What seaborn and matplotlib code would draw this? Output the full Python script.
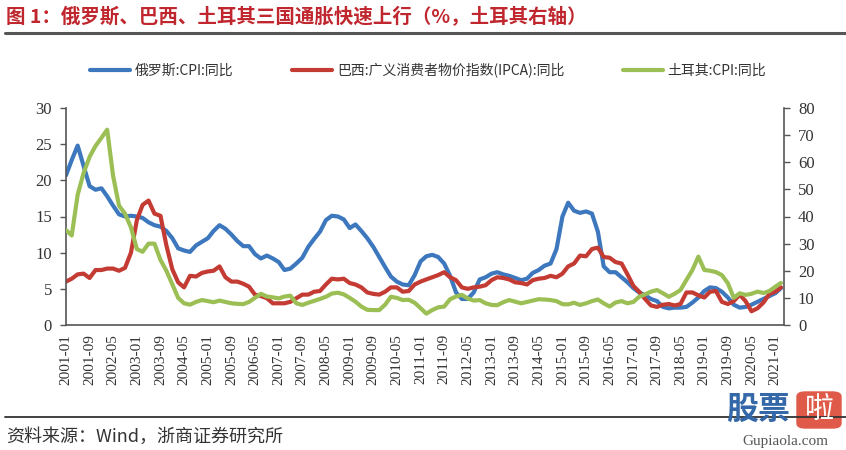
import pandas as pd
import seaborn as sns
import matplotlib.pyplot as plt
from matplotlib.lines import Line2D
from matplotlib.patches import FancyBboxPatch

# bi-monthly readings, 2001-01 .. 2021-03
dates = pd.date_range('2001-01-01', periods=122, freq='2MS')

russia = [
    20.7, 22.8, 24.8, 22.0, 19.2, 18.7, 18.9, 17.8, 16.5, 15.3, 15.0, 15.1,
    15.0, 14.8, 14.2, 13.8, 13.6, 13.0, 12.0, 10.6, 10.3, 10.1, 11.0, 11.5,
    12.0, 13.0, 13.8, 13.3, 12.5, 11.6, 10.9, 10.9, 9.8, 9.2, 9.6, 9.2,
    8.7, 7.6, 7.8, 8.5, 9.3, 10.8, 11.9, 12.9, 14.5, 15.1, 15.0, 14.6,
    13.4, 13.9, 13.0, 12.0, 10.8, 9.4, 8.0, 6.7, 6.0, 5.6, 5.5, 6.9,
    8.8, 9.5, 9.7, 9.4, 8.5, 6.8, 4.5, 3.6, 3.6, 4.5, 6.3, 6.6,
    7.1, 7.3, 7.0, 6.8, 6.5, 6.2, 6.4, 7.2, 7.6, 8.2, 8.5, 10.5,
    15.0, 16.9, 15.8, 15.5, 15.7, 15.4, 12.9, 8.1, 7.3, 7.3, 6.6, 5.9,
    5.1, 4.5, 4.1, 3.6, 3.3, 2.5, 2.3, 2.4, 2.4, 2.5, 3.1, 3.8,
    4.7, 5.2, 5.1, 4.6, 3.8, 2.8, 2.4, 2.5, 2.8, 3.2, 3.6, 4.0,
    4.4, 5.1,
]

brazil = [
    6.0, 6.4, 7.0, 7.1, 6.5, 7.6, 7.6, 7.8, 7.8, 7.5, 7.9, 10.0,
    14.5, 16.6, 17.2, 15.4, 15.1, 11.0, 7.7, 5.9, 5.2, 6.8, 6.7, 7.2,
    7.4, 7.5, 8.1, 6.6, 6.0, 6.0, 5.7, 5.3, 4.2, 4.0, 3.7, 3.0,
    3.0, 3.0, 3.2, 3.7, 4.2, 4.2, 4.6, 4.7, 5.6, 6.4, 6.3, 6.4,
    5.8, 5.6, 5.2, 4.5, 4.3, 4.2, 4.6, 5.2, 5.2, 4.6, 4.7, 5.6,
    6.0, 6.3, 6.6, 6.9, 7.3, 6.6, 6.2, 5.2, 5.0, 5.2, 5.3, 5.5,
    6.2, 6.6, 6.5, 6.3, 5.9, 5.8, 5.6, 6.2, 6.4, 6.5, 6.8, 6.6,
    7.1, 8.1, 8.5, 9.6, 9.5, 10.5, 10.7, 9.4, 9.3, 8.7, 8.5, 7.0,
    5.4, 4.6, 3.6, 2.7, 2.5, 2.8, 2.9, 2.7, 2.9, 4.5, 4.5, 4.1,
    3.8, 4.6, 4.7, 3.2, 2.9, 3.3, 4.2, 3.3, 1.9, 2.3, 3.1, 4.3,
    4.6, 5.2,
]

turkey = [
    35.0, 33.0, 48.0, 56.0, 62.0, 66.0, 69.0, 72.0, 55.0, 44.0, 41.0, 36.0,
    28.0, 27.0, 30.0, 30.0, 24.0, 20.0, 15.0, 10.0, 8.0, 7.5, 8.5, 9.2,
    8.8, 8.4, 9.0, 8.5, 8.0, 7.8, 7.7, 8.5, 10.0, 11.5, 10.5, 10.2,
    9.8, 10.5, 10.8, 8.0, 7.4, 8.2, 8.9, 9.6, 10.4, 11.6, 11.9, 11.3,
    10.0, 8.6, 6.8, 5.6, 5.5, 5.5, 7.5, 10.4, 10.0, 9.2, 9.3, 8.2,
    6.2, 4.2, 5.5, 6.5, 6.8, 9.5, 10.5, 11.1, 9.8, 9.0, 9.2, 8.0,
    7.4, 7.3, 8.4, 9.2, 8.6, 8.0, 8.5, 9.0, 9.5, 9.4, 9.2, 8.8,
    7.7, 7.6, 8.2, 7.4, 8.0, 8.8, 9.4, 8.0, 6.8, 8.3, 8.8, 8.0,
    8.5, 10.4, 11.3, 12.3, 12.9, 11.7, 10.4, 11.5, 12.9, 16.6, 20.3, 25.2,
    20.3, 20.0, 19.5, 18.4, 15.4, 10.0, 11.7, 11.1, 11.5, 12.3, 11.8, 12.5,
    14.1, 15.5,
]

labels = ['俄罗斯:CPI:同比', '巴西:广义消费者物价指数(IPCA):同比', '土耳其:CPI:同比']
colors = ['#3D78BE', '#C43B34', '#9BBF55']
left_ticks = [0, 5, 10, 15, 20, 25, 30]
right_ticks = [0, 10, 20, 30, 40, 50, 60, 70, 80]
tick_dates = pd.date_range('2001-01-01', '2021-01-01', freq='8MS')

title = '图 1：俄罗斯、巴西、土耳其三国通胀快速上行（%，土耳其右轴）'
source = '资料来源：Wind，浙商证券研究所'

sns.set_style('white')
plt.rcParams['font.family'] = ['Noto Sans CJK SC', 'DejaVu Sans']

df = pd.DataFrame({'date': dates, 'ru': russia, 'br': brazil, 'tr': turkey})

fig = plt.figure(figsize=(8.46, 4.5), dpi=100)
ax = fig.add_axes([66 / 846, 125 / 450, 718 / 846, 217 / 450])
ax2 = ax.twinx()

sns.lineplot(data=df, x='date', y='ru', ax=ax, color=colors[0], lw=3.0, label=labels[0], legend=False)
sns.lineplot(data=df, x='date', y='br', ax=ax, color=colors[1], lw=3.0, label=labels[1], legend=False)
sns.lineplot(data=df, x='date', y='tr', ax=ax2, color=colors[2], lw=3.0, label=labels[2], legend=False)

ax.set_xlim(pd.Timestamp('2001-01-01'), pd.Timestamp('2021-04-01'))
ax.set_ylim(0, 30)
ax2.set_ylim(0, 80)
ax.set_xlabel('')
ax.set_ylabel('')
ax2.set_ylabel('')

axis_col = '#555555'
serif = 'Liberation Serif'

for a in (ax, ax2):
    a.spines['top'].set_visible(False)
    for s in ('left', 'right', 'bottom'):
        a.spines[s].set_color(axis_col)
        a.spines[s].set_linewidth(1.2)
    a.grid(False)
ax.spines['right'].set_visible(False)
ax2.spines['left'].set_visible(False)
ax2.spines['bottom'].set_visible(False)

ax.set_yticks(left_ticks)
ax.set_yticklabels([str(v) for v in left_ticks])
ax2.set_yticks(right_ticks)
ax2.set_yticklabels([str(v) for v in right_ticks])
ax.set_xticks(tick_dates)
ax.set_xticklabels([d.strftime('%Y-%m') for d in tick_dates], rotation=90)

ax.tick_params(axis='y', direction='out', length=4, width=1, color=axis_col, pad=6,
               labelsize=12, labelcolor='#333333', labelfontfamily=serif)
ax.tick_params(axis='x', direction='inout', length=7, width=1, color=axis_col, pad=3,
               labelsize=11, labelcolor='#333333', labelfontfamily=serif)
ax2.tick_params(axis='y', direction='out', length=4, width=1, color=axis_col, pad=6,
                labelsize=12, labelcolor='#333333', labelfontfamily=serif)

h1, l1 = ax.get_legend_handles_labels()
h2, l2 = ax2.get_legend_handles_labels()
fig.legend(h1 + h2, l1 + l2, loc='center', bbox_to_anchor=(428 / 846, 1 - 70 / 450),
           ncol=3, frameon=False, fontsize=10, handlelength=2.9,
           columnspacing=4.2, handletextpad=0.35, labelcolor='#333333')

fig.text(6 / 846, 1 - 17 / 450, title, color='#C0262D', fontsize=14,
         fontweight='bold', va='center', ha='left')
fig.add_artist(Line2D([5 / 846, 1.0], [1 - 33 / 450] * 2, color='#555555', lw=2.2))
fig.add_artist(Line2D([5 / 846, 1.0], [1 - 417 / 450] * 2, color='#333333', lw=1.3))
fig.text(6 / 846, 1 - 437 / 450, source, fontsize=13, color='#333333', va='center', ha='left')

# watermark
fig.text(726 / 846, 1 - 410 / 450, '股票', fontsize=23, fontweight='bold', color='#3468A8',
         va='center', ha='left')
fig.add_artist(FancyBboxPatch((797 / 846, 1 - 428 / 450), 44 / 846, 36 / 450,
                              boxstyle='round,pad=0,rounding_size=0.01',
                              transform=fig.transFigure, color='#E05A4A'))
fig.text(819 / 846, 1 - 410 / 450, '啦', fontsize=21, color='white', va='center', ha='center')
fig.text(785 / 846, 1 - 441 / 450, 'Gupiaola.com', fontsize=11, fontfamily=serif,
         color='#555555', va='center', ha='center')

plt.savefig('out.png', dpi=100)
